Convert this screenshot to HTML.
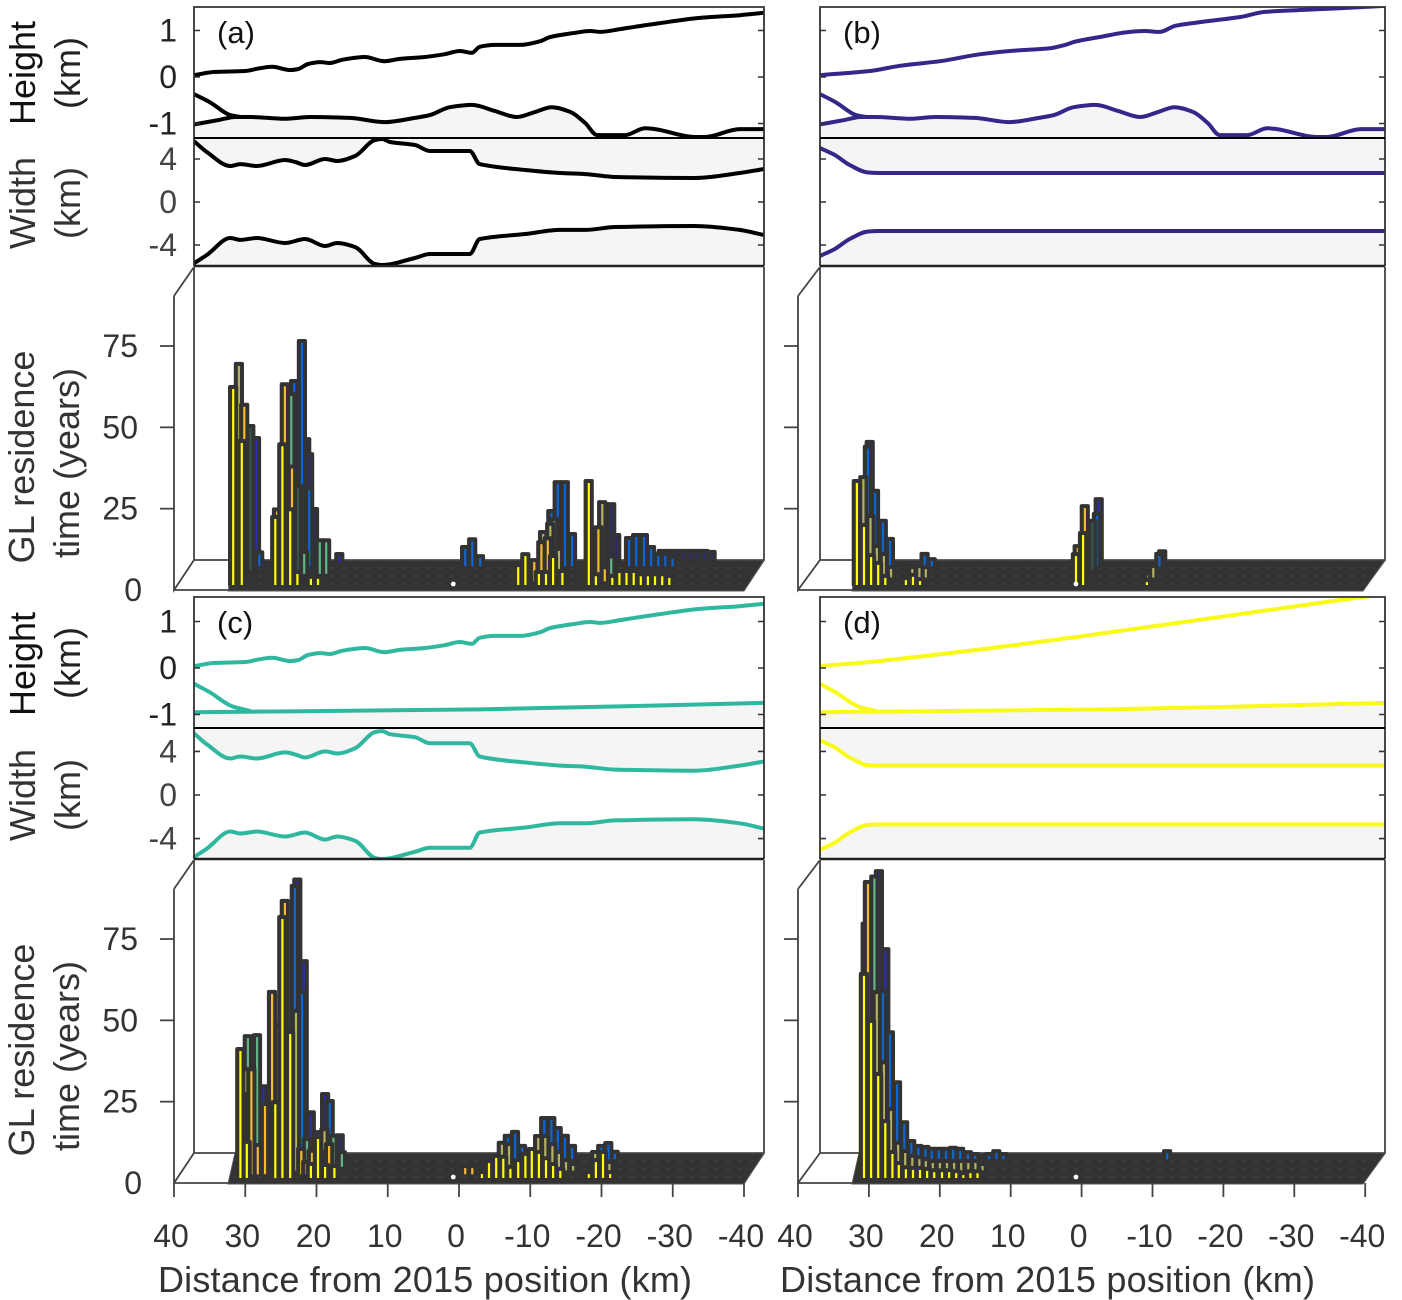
<!DOCTYPE html>
<html lang="en">
<head>
<meta charset="utf-8">
<title>Grounding line residence time</title>
<style>
html,body{margin:0;padding:0;background:#fff;}
svg{display:block;}
text{font-family:"Liberation Sans",Arial,sans-serif;fill:#333;}
</style>
</head>
<body>
<svg id="chart" xmlns="http://www.w3.org/2000/svg" width="1402" height="1300" viewBox="0 0 1402 1300">
  <g font-size="36">
    <text transform="translate(35,73) rotate(-90)" text-anchor="middle" style="fill:#111">Height</text>
    <text transform="translate(80,73) rotate(-90)" text-anchor="middle" style="fill:#222">(km)</text>
    <text transform="translate(35,203) rotate(-90)" text-anchor="middle">Width</text>
    <text transform="translate(80,203) rotate(-90)" text-anchor="middle">(km)</text>
    <text transform="translate(34,457) rotate(-90)" text-anchor="middle">GL residence</text>
    <text transform="translate(79,463) rotate(-90)" text-anchor="middle">time (years)</text>
    <text transform="translate(35,664) rotate(-90)" text-anchor="middle" style="fill:#111">Height</text>
    <text transform="translate(80,663) rotate(-90)" text-anchor="middle" style="fill:#222">(km)</text>
    <text transform="translate(35,795) rotate(-90)" text-anchor="middle">Width</text>
    <text transform="translate(80,795) rotate(-90)" text-anchor="middle">(km)</text>
    <text transform="translate(34,1050) rotate(-90)" text-anchor="middle">GL residence</text>
    <text transform="translate(79,1056) rotate(-90)" text-anchor="middle">time (years)</text>
  </g>
  <g font-size="36">
    <text x="158" y="1292" textLength="534" lengthAdjust="spacing">Distance from 2015 position (km)</text>
    <text x="780" y="1292" textLength="535" lengthAdjust="spacing">Distance from 2015 position (km)</text>
  </g>
</svg>
<script>
// Profiles: [distance km, value]
const surfaceAC = [[40,.04],[37.05,.11],[32.8,.13],[30.7,.19],[29.05,.22],[26.5,.15],[25.4,.17],[24,.28],[22.3,.32],[20.9,.30],[19.2,.37],[16,.43],[13.3,.34],[11.1,.39],[7.6,.43],[4.8,.49],[2.7,.56],[1,.52],[-.1,.65],[-2.2,.69],[-5.8,.69],[-8.6,.77],[-10,.86],[-13.5,.95],[-15.6,.99],[-17,.97],[-19.8,1.03],[-21.9,1.08],[-25.4,1.16],[-31,1.27],[-36.6,1.33],[-40,1.38]];
const surfaceB = [[40,.04],[32.9,.13],[28.7,.24],[23,.34],[17.3,.49],[13.1,.56],[7.4,.62],[5.3,.69],[3.9,.76],[.4,.86],[-3.9,.97],[-6,.99],[-8.1,.97],[-10.3,1.1],[-13.8,1.18],[-19.5,1.29],[-23,1.4],[-28,1.44],[-33.6,1.48],[-40,1.53]];
const surfaceD = [[40,.04],[32.9,.13],[-40,1.59]];
const bedAB = [[40,-1.02],[36.4,-.92],[34.2,-.86],[32.1,-.86],[27.2,-.9],[23.7,-.86],[18.1,-.88],[13.2,-.97],[9,-.88],[6.9,-.82],[4.1,-.65],[1,-.6],[-2.2,-.73],[-5.3,-.86],[-7.9,-.75],[-10.2,-.65],[-12.8,-.75],[-14.9,-.99],[-16.6,-1.25],[-20.5,-1.25],[-23.3,-1.1],[-24.7,-1.12],[-30.3,-1.29],[-31.7,-1.29],[-36.6,-1.12],[-40,-1.12]];
const bedCD = [[40,-.95],[0,-.89],[-40,-.75]];
const shelfAB = [[40,-.37],[37.8,-.54],[34.9,-.82],[33.5,-.86]];
const shelfCD = [[40,-.34],[37.8,-.52],[34.7,-.82],[32.2,-.92]];
const widthUpperAC = [[40,5.65],[38.2,4.65],[34.9,3.35],[33.5,3.53],[31.2,3.35],[27.2,3.91],[25.8,3.72],[24.4,3.44],[21.6,4],[19.9,3.81],[17.4,4.28],[14.6,5.77],[13.6,5.86],[12.5,5.58],[9,5.3],[6.9,4.74],[1.3,4.74],[-.1,3.53],[-6.5,2.98],[-11.4,2.7],[-14.9,2.6],[-19.1,2.33],[-30.3,2.23],[-36.6,2.7],[-40,3.07]];
const widthLowerAC = [[40,-5.7],[38.2,-4.93],[34.9,-3.35],[33.5,-3.53],[31.2,-3.35],[27.2,-3.81],[24.4,-3.44],[21.6,-4.09],[19.9,-3.81],[17.4,-4.19],[14.6,-5.77],[13.6,-5.86],[9,-5.21],[6.9,-4.84],[1.3,-4.84],[-.1,-3.44],[-6.5,-2.98],[-11.4,-2.6],[-14.9,-2.6],[-19.1,-2.33],[-30.3,-2.23],[-36.6,-2.6],[-40,-3.07]];
const widthUpperBD = [[40,5.02],[37.9,4.37],[35.8,3.44],[33.2,2.74],[31.5,2.7],[-40,2.7]];
const widthLowerBD = [[40,-5.02],[37.9,-4.37],[35.8,-3.44],[33.2,-2.74],[31.5,-2.7],[-40,-2.7]];

// Histogram bars: [distance km, depth row, years]
const barsA = [[31.7,0,60.6],[30.5,0,44],[25.8,0,20.6],[24.8,0,43],[23.7,0,23],[22.7,0,3.7],[20.8,0,2.2],[19.8,0,2.2],[-8.3,0,5.8],[-9.3,0,9.2],[-11.2,0,3.7],[-12.2,0,3.7],[-13.2,0,8.6],[-14.5,0,4],[-18.2,0,31.7],[-19.2,0,3],[-21.5,0,2.5],[-22.5,0,4],[-23.5,0,4],[-24.5,0,4],[-25.5,0,3],[-26.5,0,3],[-27.5,0,3],[-28.5,0,3],[-29.5,0,2.5],
[30.5,1,54],[25.9,1,21.8],[24.8,1,60.3],[23.8,1,35],[-19.2,1,16.3],[-11.2,1,11.7],[-12.1,1,12.9],[-20.1,1,4],[-10.2,1,6.2],
[-12.1,2,16.2],[-11.1,2,13.7],[31.6,2,65.4],[-19.4,2,22.9],[-13.3,2,8.5],
[24.6,3,55],[22.8,3,6.4],[20.6,3,10],[19.7,3,10],[-20.3,3,5],[-12.3,3,16.5],
[30.7,4,44],[24,4,25.5],
[24.9,5,56.7],[23.8,5,69],[22.8,5,23.7],[29.8,5,4],[-12.1,5,25.6],[-13.1,5,25.6],[-14.1,5,9.6],[-11.2,5,16.7],[.9,5,5.6],[-.1,5,8],[-1.2,5,2.8],[-22.1,5,8.4],[-23.1,5,9.3],[-24.2,5,9.3],[-25.2,5,5.6],[-26.2,5,3.5],[-27.2,5,3.5],[-28.2,5,2.6],
[30.6,6,38],[18.9,6,2.3],
[23.9,7,36.5],[23.5,7,31.9],[22.8,7,15],[-19.6,7,7],[-18.9,7,16.5],[-26,7,2.1],[-27,7,2.1],[-28,7,2.1],[-29,7,2.1],[-30,7,2.1],[-31,7,2.1],[-32,7,2.1],[-33,7,1.8]];
const barsB = [[31.7,0,31.7],[30.7,0,18.2],[29.7,0,8.9],[28.7,0,6.5],[27.7,0,2.5],[24.8,0,1.8],[23.8,0,2.8],[22.8,0,1.5],[.8,0,9.2],[-.2,0,15.7],[-9.2,0,1.2],
[-.1,1,22.8],[.9,1,10.5],
[31.5,2,30.6],[30.5,2,18.6],[29.6,2,9.4],[28.6,2,6.9],[27.6,2,2.9],[24.6,2,2.9],[23.6,2,3.2],[22.7,2,2.9],[-9.4,2,3.2],[-8.7,2,1],
[-.1,4,14.8],
[31.9,5,36.5],[30.9,5,22.9],[29.8,5,13.7],[28.8,5,8.1],[23.9,5,3.5],[22.9,5,1.9],[-9.2,5,3.5],[-.4,5,15.8],
[32,6,36.8],[-.3,6,19.2],
[-8.9,7,2]];
const barsC = [[30.7,0,39.4],[29.8,0,10.8],[25.8,0,23],[24.8,0,80],[23.7,0,44.6],[20.8,0,4],[19.8,0,12.3],[18.8,0,3.7],[17.5,0,3.4],[-3.2,0,1.5],[-4.2,0,4.9],[-5.2,0,6.5],[-6.2,0,6.2],[-7.2,0,3.1],[-8.3,0,5.2],[-9.3,0,7.1],[-10.2,0,8.6],[-11.2,0,7.7],[-12.2,0,5.8],[-13.2,0,4],[-14.2,0,2.5],[-18.2,0,1.5],[-19.2,0,5.2],[-20.2,0,7.7],[-21.2,0,1.5],
[29.8,1,24.4],[28.6,1,8.7],[27.6,1,21.3],[26.6,1,55.8],[24.8,1,83.8],[22.5,1,7.5],[21.8,1,3.5],[21,1,6.9],[18.9,1,6.5],[18.6,1,9],[29.5,1,32],[-.5,1,2.2],[-1.5,1,2.2],
[30.6,2,30.9],[26.2,2,44.5],[23.6,2,48.8],[19.6,2,12.4],[-5.3,2,8.2],[-6.3,2,7.8],[-10.4,2,10.3],[-11.4,2,10.3],[-12.4,2,7.8],[-13.3,2,5.4],[-14.3,2,2.9],[-15.3,2,1.7],[-18.4,2,5.4],[-20.4,2,2.3],
[30.7,3,39.9],[29.4,3,40.2],[22.4,3,8.2],[18.7,3,9.2],[17.5,3,4.2],
[24.8,5,83.8],[23.8,5,51.2],[19.9,5,17.6],[-5.1,5,6.9],[-6.1,5,8.1],[-7.1,5,3.8],[-10.2,5,12.4],[-11.2,5,12.4],[-12.1,5,9.3],[-13.1,5,6.9],[-14.1,5,3.8],[-18.2,5,3.8],[-19.2,5,4.7],[-20.1,5,2],
[29.6,6,21],[23.9,6,59.5],[24.8,6,84.6],[22.9,6,13],[20.9,6,18.6],[21.9,6,6.9],
[19.2,7,4.8]];
const barsD = [[30.7,0,62.5],[29.7,0,48],[28.7,0,31.7],[27.7,0,17.2],[26.7,0,7.7],[25.8,0,4.3],[24.8,0,3],[23.8,0,2.8],[22.8,0,2.8],[21.8,0,2.5],[20.8,0,2.1],[19.7,0,2.1],[18.7,0,2.1],[17.7,0,1.8],[16.7,0,1.2],[15.7,0,1.8],[14.7,0,1.8],
[30.8,1,76.8],[30.5,1,89.6],
[29.6,2,54.6],[28.6,2,33],[27.6,2,18.6],[26.6,2,8.2],[25.6,2,5.7],[24.6,2,4.2],[23.6,2,3.8],[22.7,2,3.2],[21.7,2,2.6],[20.7,2,2.6],[19.7,2,2.6],[18.7,2,2.6],[17.7,2,2.6],[16.7,2,2.6],[15.7,2,2.6],[14.7,2,1.7],
[30.3,3,89],
[30.8,4,75.7],
[29.8,5,51.5],[28.8,5,38.8],[27.8,5,23.4],[26.8,5,11.1],[25.8,5,5.3],[24.8,5,3.8],[23.8,5,3.5],[22.9,5,2.9],[21.9,5,2.9],[20.9,5,2.9],[19.9,5,3.2],[18.9,5,2.9],[17.8,5,1.9],[16.8,5,1.3],[14.8,5,1.3],[13.8,5,2.2],[12.8,5,1.3],[-10.3,5,2.2],
[30.7,6,87.2],[29.8,6,63.2]];

// Tick labels
const heightTicks = [1,0,-1];
const widthTicks = [4,0,-4];
const yearTicks = [75,50,25,0];
const distanceTicks = [40,30,20,10,0,-10,-20,-30,-40];
const panelLetters = ['(a)','(b)','(c)','(d)'];
const originKm = [0.8,0.8,0.8,0.8];

const rowColors = ['#ffff00','#f5b92e','#b3b263','#62b486','#35544a','#0a66d6','#2c2cb0','#2b2b6b'];
const NS = 'http://www.w3.org/2000/svg';
const root = document.getElementById('chart');

function make(parent, tag, attrs, txt) {
  const el = document.createElementNS(NS, tag);
  for (const k in attrs) el.setAttribute(k, attrs[k]);
  if (txt !== undefined) el.textContent = txt;
  parent.appendChild(el);
  return el;
}

// Monotone cubic path through projected points: no overshoot on plateaus or long segments
function smooth(points) {
  const n = points.length;
  const seg = [];
  for (let i = 0; i < n - 1; i++) seg.push((points[i + 1][1] - points[i][1]) / (points[i + 1][0] - points[i][0]));
  const slope = function (i) {
    if (i === 0) return seg[0];
    if (i === n - 1) return seg[n - 2];
    const a = seg[i - 1], b = seg[i];
    if (a * b <= 0) return 0;
    return 2 * a * b / (a + b);
  };
  let d = '';
  for (let i = 0; i < n - 1; i++) {
    const p1 = points[i], p2 = points[i + 1];
    const dx = (p2[0] - p1[0]) / 3;
    const s1 = slope(i), s2 = slope(i + 1);
    d += 'C' + (p1[0] + dx).toFixed(1) + ' ' + (p1[1] + s1 * dx).toFixed(1) + ' ' + (p2[0] - dx).toFixed(1) + ' ' + (p2[1] - s2 * dx).toFixed(1) + ' ' + p2[0].toFixed(1) + ' ' + p2[1].toFixed(1);
  }
  return d;
}

const layouts = [
  {id:'a',left:194,right:764,hTop:7,hBot:138,hY0:77,hK:46.5,wTop:138,wBot:266,wY0:202,wK:10.75,fx:174,fk:7.125,fy:590,top:267,color:'#000',showY:true,showX:false},
  {id:'b',left:820,right:1385,hTop:7,hBot:138,hY0:77,hK:46.5,wTop:138,wBot:266,wY0:202,wK:10.75,fx:798,fk:7.09,fy:590,top:267,color:'#33278a',showY:false,showX:false},
  {id:'c',left:194,right:764,hTop:597,hBot:728,hY0:668,hK:46.5,wTop:728,wBot:859,wY0:795,wK:10.9,fx:174,fk:7.125,fy:1183,top:860,color:'#2fb89f',showY:true,showX:true},
  {id:'d',left:820,right:1385,hTop:597,hBot:728,hY0:668,hK:46.5,wTop:728,wBot:859,wY0:795,wK:10.9,fx:798,fk:7.09,fy:1183,top:860,color:'#f9f91a',showY:false,showX:true}
];
const series = [
  {surface:surfaceAC,bed:bedAB,shelf:shelfAB,upper:widthUpperAC,lower:widthLowerAC,bars:barsA},
  {surface:surfaceB,bed:bedAB,shelf:shelfAB,upper:widthUpperBD,lower:widthLowerBD,bars:barsB},
  {surface:surfaceAC,bed:bedCD,shelf:shelfCD,upper:widthUpperAC,lower:widthLowerAC,bars:barsC},
  {surface:surfaceD,bed:bedCD,shelf:shelfCD,upper:widthUpperBD,lower:widthLowerBD,bars:barsD}
];
const AX = '#333';

layouts.forEach(function (p, i) {
  const s = series[i];
  const g = make(root, 'g', {});
  
  

  const xTop = km => p.left + (40 - km) * (p.right - p.left) / 80;
  const yH = v => p.hY0 - v * p.hK;
  const yW = v => p.wY0 - v * p.wK;
  const proj = (arr, yf) => arr.map(d => [xTop(d[0]), yf(d[1])]);
  const lineD = (arr, yf) => {
    const q = proj(arr, yf);
    return 'M' + q[0][0].toFixed(1) + ' ' + q[0][1].toFixed(1) + smooth(q);
  };
  const fillD = (arr, yf, edge) => {
    const q = proj(arr, yf);
    return 'M' + q[0][0].toFixed(1) + ' ' + edge + 'L' + q[0][0].toFixed(1) + ' ' + q[0][1].toFixed(1) + smooth(q) + 'L' + q[q.length - 1][0].toFixed(1) + ' ' + edge + 'Z';
  };

  const defs = make(g, 'defs', {});
  const clipH = make(defs, 'clipPath', {id:'clip-h-' + p.id});
  make(clipH, 'rect', {x:p.left, y:p.hTop, width:p.right - p.left, height:p.hBot - p.hTop});
  const clipW = make(defs, 'clipPath', {id:'clip-w-' + p.id});
  make(clipW, 'rect', {x:p.left, y:p.wTop, width:p.right - p.left, height:p.wBot - p.wTop});

  // Height panel
  const gh = make(g, 'g', {'clip-path':'url(#clip-h-' + p.id + ')'});
  
  
  const bedFill = make(gh, 'path', {d:fillD(s.bed, yH, p.hBot), fill:'#f5f5f5', stroke:'none'});
  
  
  const lineAttrs = {fill:'none', stroke:p.color, 'stroke-width':4, 'stroke-linejoin':'round', 'stroke-linecap':'round'};
  const surf = make(gh, 'path', Object.assign({d:lineD(s.surface, yH)}, lineAttrs));
  
  
  const bed = make(gh, 'path', Object.assign({d:lineD(s.bed, yH)}, lineAttrs));
  
  
  const shelf = make(gh, 'path', Object.assign({d:lineD(s.shelf, yH)}, lineAttrs));
  
  

  // Width panel
  const gw = make(g, 'g', {'clip-path':'url(#clip-w-' + p.id + ')'});
  
  
  const fillUp = make(gw, 'path', {d:fillD(s.upper, yW, p.wTop), fill:'#f5f5f5', stroke:'none'});
  
  
  const fillLo = make(gw, 'path', {d:fillD(s.lower, yW, p.wBot), fill:'#f5f5f5', stroke:'none'});
  
  
  const up = make(gw, 'path', Object.assign({d:lineD(s.upper, yW)}, lineAttrs));
  
  
  const lo = make(gw, 'path', Object.assign({d:lineD(s.lower, yW)}, lineAttrs));
  
  

  // Frames of the two profile axes
  const frame = make(g, 'path', {d:'M' + p.left + ' ' + p.hBot + 'V' + p.hTop + 'H' + p.right + 'V' + p.wBot + 'M' + p.left + ' ' + p.hBot + 'V' + p.wBot, fill:'none', stroke:AX, 'stroke-width':1.8});
  
  
  const div1 = make(g, 'line', {x1:p.left, x2:p.right, y1:p.hBot, y2:p.hBot, stroke:'#000', 'stroke-width':2});
  
  
  const div2 = make(g, 'line', {x1:p.left, x2:p.right, y1:p.wBot, y2:p.wBot, stroke:'#222', 'stroke-width':2.4});
  
  

  heightTicks.forEach(function (t) {
    const y = yH(t);
    const l = make(g, 'path', {d:'M' + p.left + ' ' + y + 'h6M' + p.right + ' ' + y + 'h-6', stroke:AX, 'stroke-width':1.6});
    
    
    if (p.showY) {
      const tx = make(g, 'text', {x:177, y:y + 11, 'font-size':32, 'text-anchor':'end', style:'fill:#222'}, String(t));
      
      
    }
  });
  widthTicks.forEach(function (t) {
    const y = yW(t);
    const l = make(g, 'path', {d:'M' + p.left + ' ' + y + 'h6M' + p.right + ' ' + y + 'h-6', stroke:AX, 'stroke-width':1.6});
    
    
    if (p.showY) {
      const tx = make(g, 'text', {x:177, y:y + 11, 'font-size':32, 'text-anchor':'end', style:'fill:#444'}, String(t));
      
      
    }
  });

  const letter = make(g, 'text', {x:p.left + 23, y:p.hTop + 36, 'font-size':31, style:'fill:#111'}, panelLetters[i]);
  
  

  // 3D histogram
  const backY = p.fy - 30, backRight = p.right, frontRight = p.fx + (p.right - p.left);
  const wall = make(g, 'path', {
    d:'M' + p.left + ' ' + p.top + 'V' + backY + 'H' + backRight + 'V' + p.top +
      'M' + p.fx + ' ' + (p.top + 29) + 'L' + p.left + ' ' + p.top +
      'M' + p.fx + ' ' + (p.top + 29) + 'V' + p.fy + 'L' + p.left + ' ' + backY +
      'M' + p.fx + ' ' + p.fy + 'H' + frontRight + 'L' + backRight + ' ' + backY,
    fill:'none', stroke:'#444', 'stroke-width':1.8});
  
  

  const xBar = (km, r) => p.fx + (40 - km) * p.fk + r * 2.5;
  const baseY = r => p.fy - 5 - r * 3.75;
  const yBar = (v, r) => baseY(r) - v * 3.25;

  const floorLeft = p.fx + 54;
  const floor = make(g, 'polygon', {points: floorLeft + ',' + (p.fy + 1) + ' ' + (floorLeft + 7) + ',' + backY + ' ' + backRight + ',' + backY + ' ' + frontRight + ',' + (p.fy + 1), fill:'#333', stroke:'#555', 'stroke-width':1});
  
  
  [6, 14, 22].forEach(function (off) {
    const y = p.fy - off;
    const mesh = make(g, 'line', {x1:floorLeft + 6, x2:frontRight + off * 0.66 - 2, y1:y, y2:y, stroke:'#444', 'stroke-width':1, 'stroke-dasharray':'4 8'});
    
    
  });

  const order = s.bars.slice().sort((a, b) => b[1] - a[1] || b[0] - a[0]);
  const gb = make(g, 'g', {});
  
  
  order.forEach(function (d) {
    const x = xBar(d[0], d[1]), yt = yBar(d[2], d[1]), yb = baseY(d[1]);
    const body = make(gb, 'rect', {x:(x - 5.1).toFixed(1), y:(yt - 3).toFixed(1), width:10.2, height:(yb - yt + 5).toFixed(1), rx:2, fill:'#333'});
    
    
    const core = make(gb, 'rect', {x:(x - 1).toFixed(1), y:(yt + 1).toFixed(1), width:2.2, height:Math.max(1, yb - yt - 1).toFixed(1), fill:rowColors[d[1]]});
    
    
  });

  const dot = make(g, 'circle', {cx:xBar(originKm[i], 0), cy:p.fy - 6, r:2.4, fill:'#fff'});
  
  

  yearTicks.forEach(function (t) {
    const y = p.fy - t * 3.253;
    if (t !== 0) {
      const l = make(g, 'line', {x1:p.fx - 14, x2:p.fx, y1:y, y2:y, stroke:'#444', 'stroke-width':1.8});
      
      
    }
    if (p.showY) {
      const tx = make(g, 'text', {x:t === 0 ? 142 : 138, y:y + 11, 'font-size':32, 'text-anchor':'end'}, String(t));
      
      
    }
  });

  if (p.showX) {
    distanceTicks.forEach(function (t) {
      const x = p.fx + (40 - t) * p.fk;
      const l = make(g, 'line', {x1:x, x2:x, y1:p.fy, y2:p.fy + 14, stroke:'#444', 'stroke-width':1.8});
      
      
      const tx = make(g, 'text', {x:x - 3, y:1247, 'font-size':32, 'text-anchor':'middle'}, String(t));
      
      
    });
  }
});
</script>
</body>
</html>
